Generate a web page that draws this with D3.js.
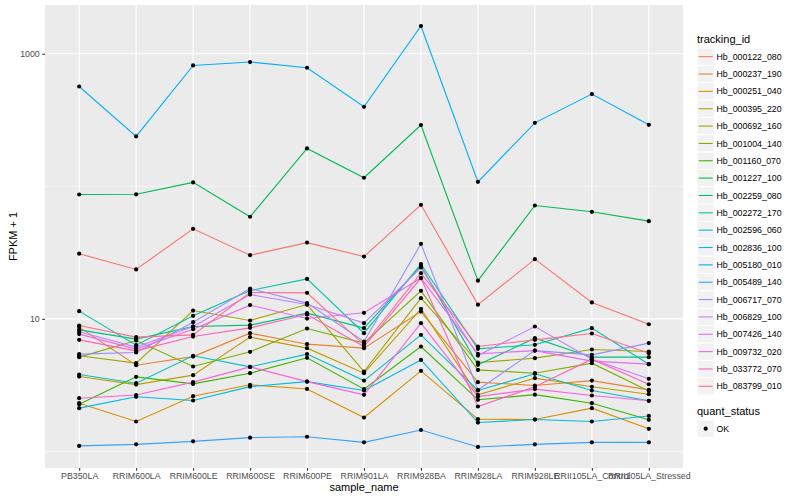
<!DOCTYPE html>
<html>
<head>
<meta charset="utf-8">
<script src="https://cdn.jsdelivr.net/npm/d3@7"></script>
<style>
  body { margin: 0; background: #fff; }
  svg { display: block; font-family: "Liberation Sans", Arial, sans-serif; }
</style>
</head>
<body>
<div id="chart"></div>
<script>
const samples = [
  "PB350LA", "RRIM600LA", "RRIM600LE", "RRIM600SE", "RRIM600PE", "RRIM901LA",
  "RRIM928BA", "RRIM928LA", "RRIM928LE", "RRII105LA_Control", "RRII105LA_Stressed",
];

const trackingIds = [
  "Hb_000122_080", "Hb_000237_190", "Hb_000251_040", "Hb_000395_220", "Hb_000692_160",
  "Hb_001004_140", "Hb_001160_070", "Hb_001227_100", "Hb_002259_080", "Hb_002272_170",
  "Hb_002596_060", "Hb_002836_100", "Hb_005180_010", "Hb_005489_140", "Hb_006717_070",
  "Hb_006829_100", "Hb_007426_140", "Hb_009732_020", "Hb_033772_070", "Hb_083799_010",
];

const lineColors = [
  "#F8766D", "#EA8331", "#D89000", "#C09B00", "#A3A500", "#7CAE00", "#39B600",
  "#00BB4E", "#00BF7D", "#00C1A3", "#00BFC4", "#00BAE0", "#00B0F6", "#35A2FF",
  "#9590FF", "#C77CFF", "#E76BF3", "#FA62DB", "#FF62BC", "#FF6C91",
];

// FPKM + 1, one row per tracking_id, one value per sample
const fpkmPlusOne = [
  [31.0, 23.6, 47.8, 30.2, 37.6, 29.5, 72.5, 12.8, 28.2, 13.3, 9.1],
  [8.66, 4.47, 5.19, 7.80, 6.44, 6.01, 11.35, 3.33, 3.14, 3.42, 2.91],
  [2.31, 1.68, 2.61, 3.18, 2.96, 1.80, 4.05, 1.75, 1.74, 2.12, 1.48],
  [3.67, 3.19, 3.76, 7.28, 6.01, 3.89, 11.9, 2.67, 3.57, 3.07, 2.70],
  [5.26, 4.63, 11.55, 9.71, 12.82, 4.00, 14.33, 4.68, 5.05, 5.87, 5.67],
  [5.14, 6.86, 4.37, 5.64, 8.45, 6.56, 16.27, 4.12, 3.89, 4.63, 2.86],
  [2.27, 3.65, 3.23, 3.89, 5.08, 2.95, 6.18, 2.45, 2.68, 2.31, 1.73],
  [86.7, 87.0, 107, 58.9, 193, 116, 290, 19.4, 71.6, 64.2, 54.6],
  [8.26, 7.03, 8.75, 8.96, 11.04, 8.51, 25.1, 4.50, 7.15, 5.14, 5.14],
  [11.43, 6.33, 10.54, 16.35, 20.0, 7.80, 25.9, 5.94, 6.37, 8.51, 4.55],
  [3.80, 3.27, 5.26, 4.34, 5.42, 3.42, 7.57, 2.88, 3.85, 2.88, 2.41],
  [2.12, 2.58, 2.42, 3.08, 3.36, 2.88, 4.90, 1.65, 1.74, 1.68, 1.85],
  [566, 238, 816, 866, 784, 398, 1618, 108, 301, 496, 291],
  [1.10, 1.13, 1.19, 1.27, 1.29, 1.17, 1.45, 1.08, 1.13, 1.17, 1.17],
  [5.42, 5.57, 9.44, 16.93, 13.14, 6.74, 36.8, 2.91, 5.76, 5.35, 6.56],
  [7.98, 6.12, 8.75, 15.25, 12.82, 9.28, 24.4, 5.28, 8.75, 4.96, 3.53],
  [7.67, 5.91, 8.36, 12.69, 10.05, 11.10, 20.3, 5.44, 5.76, 4.80, 4.55],
  [2.52, 2.66, 3.33, 4.34, 3.36, 2.67, 9.28, 2.59, 2.95, 2.64, 2.41],
  [6.94, 5.73, 7.35, 8.55, 10.78, 6.18, 20.3, 2.18, 3.07, 4.96, 3.21],
  [8.90, 7.28, 7.57, 15.79, 15.71, 6.37, 22.1, 6.18, 6.94, 7.75, 5.51],
];

const yMajorTicks = [10, 1000];
const yMinorTicks = [1, 100];
const statusLevels = ["OK"];

const width = 800;
const height = 500;
const panel = { left: 45, right: 683, top: 5, bottom: 468 };

const svg = d3.select("#chart")
  .append("svg")
  .attr("width", width)
  .attr("height", height);

const x = d3.scalePoint()
  .domain(samples)
  .range([panel.left, panel.right])
  .padding(0.6);

// log scale with ggplot's 5% expansion in log space
const allValues = fpkmPlusOne.flat();
const logMin = Math.log10(d3.min(allValues));
const logMax = Math.log10(d3.max(allValues));
const pad = (logMax - logMin) * 0.05;
const y = d3.scaleLog()
  .domain([10 ** (logMin - pad), 10 ** (logMax + pad)])
  .range([panel.bottom, panel.top]);

svg.append("rect")
  .attr("x", panel.left)
  .attr("y", panel.top)
  .attr("width", panel.right - panel.left)
  .attr("height", panel.bottom - panel.top)
  .attr("fill", "#EBEBEB");

const grid = svg.append("g");
grid.selectAll("line.minor")
  .data(yMinorTicks)
  .join("line")
  .attr("x1", panel.left).attr("x2", panel.right)
  .attr("y1", (d) => y(d)).attr("y2", (d) => y(d))
  .attr("stroke", "#fff").attr("stroke-width", 0.55);
grid.selectAll("line.majorY")
  .data(yMajorTicks)
  .join("line")
  .attr("x1", panel.left).attr("x2", panel.right)
  .attr("y1", (d) => y(d)).attr("y2", (d) => y(d))
  .attr("stroke", "#fff").attr("stroke-width", 1.1);
grid.selectAll("line.majorX")
  .data(samples)
  .join("line")
  .attr("x1", (d) => x(d)).attr("x2", (d) => x(d))
  .attr("y1", panel.top).attr("y2", panel.bottom)
  .attr("stroke", "#fff").attr("stroke-width", 1.1);

const series = trackingIds.map((id, i) => ({
  id,
  color: lineColors[i],
  values: samples.map((s, j) => ({ sample: s, value: fpkmPlusOne[i][j] })),
}));

const line = d3.line()
  .x((d) => x(d.sample))
  .y((d) => y(d.value));

svg.append("g")
  .selectAll("path")
  .data(series)
  .join("path")
  .attr("d", (d) => line(d.values))
  .attr("fill", "none")
  .attr("stroke", (d) => d.color)
  .attr("stroke-width", 1.1);

svg.append("g")
  .selectAll("circle")
  .data(series.flatMap((d) => d.values))
  .join("circle")
  .attr("cx", (d) => x(d.sample))
  .attr("cy", (d) => y(d.value))
  .attr("r", 2.1)
  .attr("fill", "#000");

// axes
const xAxis = svg.append("g")
  .attr("transform", `translate(0,${panel.bottom})`)
  .call(d3.axisBottom(x).tickSize(2.75).tickPadding(2));
const yAxis = svg.append("g")
  .attr("transform", `translate(${panel.left},0)`)
  .call(d3.axisLeft(y).tickValues(yMajorTicks).tickFormat(d3.format("d")).tickSize(2.75).tickPadding(2.5));

[xAxis, yAxis].forEach((ax) => {
  ax.select(".domain").remove();
  ax.selectAll(".tick line").attr("stroke", "#333333").attr("stroke-width", 1.07);
  ax.selectAll(".tick text")
    .attr("fill", "#4D4D4D")
    .attr("font-size", "8.8px")
    .attr("font-family", "Liberation Sans, Arial, sans-serif");
});

svg.append("text")
  .attr("x", (panel.left + panel.right) / 2)
  .attr("y", 491)
  .attr("text-anchor", "middle")
  .attr("font-size", "11px")
  .text("sample_name");

svg.append("text")
  .attr("transform", `translate(17,${(panel.top + panel.bottom) / 2}) rotate(-90)`)
  .attr("text-anchor", "middle")
  .attr("font-size", "11px")
  .text("FPKM + 1");

// legend: tracking_id
const keySize = 17.35;
const legend = svg.append("g").attr("transform", "translate(697,0)");

legend.append("text")
  .attr("x", 0)
  .attr("y", 43)
  .attr("font-size", "11px")
  .text("tracking_id");

const rows = legend.selectAll("g.row")
  .data(series)
  .join("g")
  .attr("class", "row")
  .attr("transform", (d, i) => `translate(0,${48 + i * keySize})`);

rows.append("rect")
  .attr("width", keySize)
  .attr("height", keySize)
  .attr("fill", "#F2F2F2")
  .attr("stroke", "#fff")
  .attr("stroke-width", 1);
rows.append("line")
  .attr("x1", 1.7).attr("x2", keySize - 1.7)
  .attr("y1", keySize / 2).attr("y2", keySize / 2)
  .attr("stroke", (d) => d.color)
  .attr("stroke-width", 1.1);
rows.append("text")
  .attr("x", 19.5)
  .attr("y", keySize / 2 + 3.1)
  .attr("font-size", "8.8px")
  .text((d) => d.id);

// legend: quant_status
const statusLegend = svg.append("g").attr("transform", "translate(697,0)");
statusLegend.append("text")
  .attr("x", 0)
  .attr("y", 415)
  .attr("font-size", "11px")
  .text("quant_status");

const statusRows = statusLegend.selectAll("g.row")
  .data(statusLevels)
  .join("g")
  .attr("class", "row")
  .attr("transform", (d, i) => `translate(0,${420 + i * keySize})`);
statusRows.append("rect")
  .attr("width", keySize)
  .attr("height", keySize)
  .attr("fill", "#F2F2F2")
  .attr("stroke", "#fff");
statusRows.append("circle")
  .attr("cx", keySize / 2)
  .attr("cy", keySize / 2)
  .attr("r", 2.1)
  .attr("fill", "#000");
statusRows.append("text")
  .attr("x", 19.5)
  .attr("y", keySize / 2 + 3.1)
  .attr("font-size", "8.8px")
  .text((d) => d);
</script>
</body>
</html>
